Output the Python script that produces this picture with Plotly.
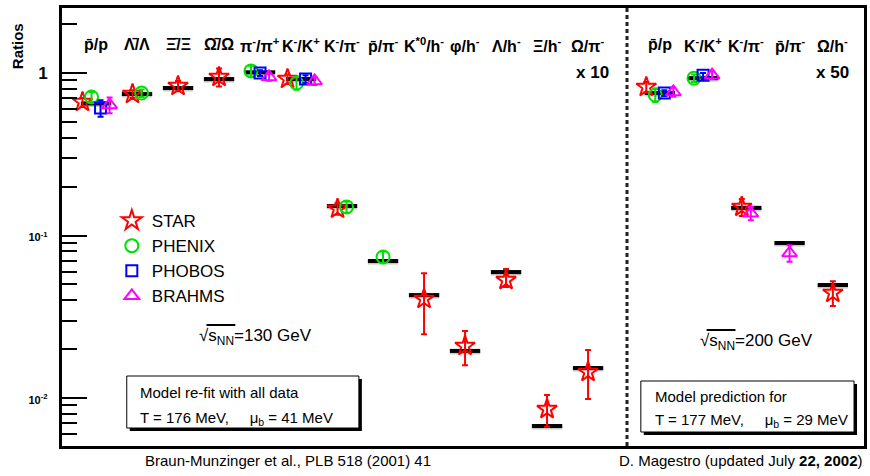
import plotly.graph_objects as go

# ---------------- data ----------------
# sqrt(s_NN) = 130 GeV particle ratios
labels_130 = ["p\u0304/p", "\u039b\u0304/\u039b", "\u039e\u0304/\u039e", "\u03a9\u0304/\u03a9",
              "\u03c0<sup>-</sup>/\u03c0<sup>+</sup>", "K<sup>-</sup>/K<sup>+</sup>",
              "K<sup>-</sup>/\u03c0<sup>-</sup>", "p\u0304/\u03c0<sup>-</sup>",
              "K<sup>*0</sup>/h<sup>-</sup>", "\u03c6/h<sup>-</sup>", "\u039b/h<sup>-</sup>",
              "\u039e/h<sup>-</sup>", "\u03a9/\u03c0<sup>-</sup>"]
model_130 = [0.65, 0.743, 0.809, 0.918, 1.01, 0.918, 0.152, 0.0697, 0.043, 0.0195, 0.0596, 0.00673, 0.0153]
star_130 = [0.663, 0.743, 0.832, 0.945, None, 0.918, 0.146, None, 0.0407, 0.0209, 0.0532, 0.00855, 0.01445]
star_130_up = [0.04, 0.04, 0.06, 0.12, None, 0.06, 0.012, None, 0.018, 0.005, 0.009, 0.0019, 0.0053]
star_130_dn = [0.04, 0.04, 0.06, 0.12, None, 0.06, 0.012, None, 0.016, 0.005, 0.005, 0.0019, 0.0046]
phenix_130 = [0.712, 0.753, None, None, 1.03, 0.868, 0.150, 0.0738, None, None, None, None, None]
phenix_130_err = [0.05, 0.04, None, None, 0.08, 0.08, 0.012, 0.006, None, None, None, None, None]
phobos_130 = [0.609, None, None, None, 1.00, 0.918, None, None, None, None, None, None, None]
phobos_130_err = [0.07, None, None, None, 0.04, 0.05, None, None, None, None, None, None, None]
brahms_130 = [0.636, None, None, None, 0.945, 0.893, None, None, None, None, None, None, None]
brahms_130_err = [0.07, None, None, None, 0.05, 0.05, None, None, None, None, None, None, None]

# sqrt(s_NN) = 200 GeV particle ratios
labels_200 = ["p\u0304/p", "K<sup>-</sup>/K<sup>+</sup>", "K<sup>-</sup>/\u03c0<sup>-</sup>",
              "p\u0304/\u03c0<sup>-</sup>", "\u03a9/h<sup>-</sup>"]
model_200 = [0.753, 0.93, 0.148, 0.090, 0.0496]
star_200 = [0.82, None, 0.150, None, 0.0443]
star_200_up = [0.06, None, 0.018, None, 0.008]
star_200_dn = [0.06, None, 0.018, None, 0.0074]
phenix_200 = [0.732, 0.93, None, None, None]
phenix_200_err = [0.07, 0.05, None, None, None]
phobos_200 = [0.753, 0.97, None, None, None]
phobos_200_err = [0.03, 0.03, None, None, None]
brahms_200 = [0.764, 0.97, 0.137, 0.078, None]
brahms_200_err = [0.05, 0.05, 0.013, 0.009, None]

scale_130 = "x 10"   # factor applied to the last 130 GeV ratio
scale_200 = "x 50"   # factor applied to the last 200 GeV ratio

# ---------------- layout helpers ----------------
W, H = 870, 476
ML, MR, MT, MB = 62, 3, 8, 30
PW, PH = W - ML - MR, H - MT - MB

def px(x):
    return (x - ML) / PW

def py(y):
    return (H - MB - y) / PH

def xpos_130(i):
    return float(i)

def xpos_200(j):
    return 13.75 + 1.055 * j

x130 = [xpos_130(i) for i in range(len(labels_130))]
x200 = [xpos_200(j) for j in range(len(labels_200))]
xs_all = x130 + x200
separator_x = 12.95

FONT = "Liberation Sans Narrow, Liberation Sans, Arial, sans-serif"

experiments = [
    ("STAR", "star-open", "#ff0000", 15,
     star_130 + star_200, star_130_up + star_200_up, star_130_dn + star_200_dn),
    ("PHENIX", "circle-open", "#00e000", 13,
     phenix_130 + phenix_200, phenix_130_err + phenix_200_err, phenix_130_err + phenix_200_err),
    ("PHOBOS", "square-open", "#0000ff", 11,
     phobos_130 + phobos_200, phobos_130_err + phobos_200_err, phobos_130_err + phobos_200_err),
    ("BRAHMS", "triangle-up-open", "#ff00ff", 13,
     brahms_130 + brahms_200, brahms_130_err + brahms_200_err, brahms_130_err + brahms_200_err),
]

# spread the experiments horizontally within each ratio
n_cat = len(xs_all)
present = [[e for e in range(len(experiments)) if experiments[e][4][c] is not None] for c in range(n_cat)]
step = 0.22

fig = go.Figure()

# model (thermal fit) values as short horizontal bars
half = 0.37
bx, by = [], []
for xc, v in zip(xs_all, model_130 + model_200):
    bx += [xc - half, xc + half, None]
    by += [v, v, None]
fig.add_trace(go.Scatter(x=bx, y=[None if b is None else b * 0.972 for b in by], mode="lines",
                         line=dict(color="#c8c8c8", width=3), showlegend=False, hoverinfo="skip"))
fig.add_trace(go.Scatter(x=bx, y=by, mode="lines", line=dict(color="black", width=4),
                         showlegend=False, hoverinfo="skip"))

for e, (name, sym, col, size, vals, up, dn) in enumerate(experiments):
    xx, yy, eu, ed = [], [], [], []
    for c in range(n_cat):
        if vals[c] is None:
            continue
        k = present[c].index(e)
        n = len(present[c])
        xx.append(xs_all[c] + (k - (n - 1) / 2) * step)
        yy.append(vals[c])
        eu.append(up[c] or 0)
        ed.append(dn[c] or 0)
    fig.add_trace(go.Scatter(
        x=xx, y=yy, mode="markers", name=name,
        marker=dict(symbol=sym, size=size, color=col, line=dict(color=col, width=2)),
        error_y=dict(type="data", array=eu, arrayminus=ed, symmetric=False,
                     color=col, thickness=2, width=3),
    ))

def text_font(size):
    return dict(size=size, family=FONT, color="black")

# ratio labels along the top
ann = []
for xc, lab in zip(x130 + x200, labels_130 + labels_200):
    ann.append(dict(x=xc, y=py(45), xref="x", yref="paper", yanchor="middle",
                    text="<b>" + lab + "</b>", showarrow=False, font=text_font(16)))
ann.append(dict(x=x130[-1] + 0.1, y=py(72), xref="x", yref="paper", yanchor="middle",
                text="<b>" + scale_130 + "</b>", showarrow=False, font=text_font(17)))
ann.append(dict(x=x200[-1], y=py(72), xref="x", yref="paper", yanchor="middle",
                text="<b>" + scale_200 + "</b>", showarrow=False, font=text_font(17)))

# y-axis title
ann.append(dict(x=px(17), y=py(46), xref="paper", yref="paper", xanchor="center",
                yanchor="middle", text="<b>Ratios</b>", textangle=-90, showarrow=False,
                font=text_font(15)))

# collision energies
sqrt_s = "\u221as<sub>NN</sub>"
ann.append(dict(x=px(198), y=py(337), xref="paper", yref="paper", xanchor="left",
                yanchor="middle", text=sqrt_s + "=130 GeV", showarrow=False,
                font=text_font(17)))
ann.append(dict(x=px(700), y=py(342), xref="paper", yref="paper", xanchor="left",
                yanchor="middle", text=sqrt_s + "=200 GeV", showarrow=False,
                font=text_font(17)))

# model parameter boxes
sp = "\u00a0" * 5
box_lines = [
    (138, 392, "Model re-fit with all data"),
    (138, 418, "T = 176 MeV," + sp + "\u03bc<sub>b</sub> = 41 MeV"),
    (655, 396, "Model prediction for"),
    (655, 420, "T = 177 MeV," + sp + "\u03bc<sub>b</sub> = 29 MeV"),
]
for bxp, byp, txt in box_lines:
    ann.append(dict(x=px(bxp), y=py(byp), xref="paper", yref="paper", xanchor="left",
                    yanchor="middle", text=txt, showarrow=False, font=text_font(15)))

# references under the frame
ann.append(dict(x=px(143), y=py(460), xref="paper", yref="paper", xanchor="left",
                yanchor="middle", text="Braun-Munzinger et al., PLB 518 (2001) 41",
                showarrow=False, font=text_font(15)))
ann.append(dict(x=px(867), y=py(460), xref="paper", yref="paper", xanchor="right",
                yanchor="middle", text="D. Magestro (updated July <b>22, 2002</b>)",
                showarrow=False, font=text_font(15)))

shapes = []
for (x0, y0, x1, y1) in [(127, 376, 360, 428), (643, 381, 857, 432)]:
    shapes.append(dict(type="rect", xref="paper", yref="paper",
                       x0=px(x0 + 3), x1=px(x1 + 3), y0=py(y0 + 3), y1=py(y1 + 3),
                       fillcolor="black", line=dict(width=0)))
    shapes.append(dict(type="rect", xref="paper", yref="paper",
                       x0=px(x0), x1=px(x1), y0=py(y0), y1=py(y1),
                       fillcolor="white", line=dict(color="black", width=1)))
# radical overbars over s_NN
for (x0, x1, yy) in [(207, 236, 325), (709, 738, 330)]:
    shapes.append(dict(type="line", xref="paper", yref="paper", x0=px(x0), x1=px(x1),
                       y0=py(yy), y1=py(yy), layer="above",
                       line=dict(color="black", width=2)))
shapes.append(dict(type="line", xref="x", yref="paper", x0=separator_x, x1=separator_x,
                   y0=0, y1=1, line=dict(color="#222222", width=3, dash="4px,3px")))

# log-axis ticks
major = [0.01, 0.1, 1]
major_txt = ["<b><span style='font-size:11px'>10<sup>-2</sup></span></b>",
             "<b><span style='font-size:11px'>10<sup>-1</sup></span></b>",
             "<b>1</b>"]
minor = [m * d for d in (0.001, 0.01, 0.1, 1) for m in range(2, 10)]

fig.update_layout(
    width=W, height=H,
    margin=dict(l=ML, r=MR, t=MT, b=MB),
    paper_bgcolor="white", plot_bgcolor="white",
    showlegend=True,
    legend=dict(x=px(112), y=py(203), xanchor="left", yanchor="top",
                bgcolor="rgba(0,0,0,0)", font=text_font(17),
                itemsizing="trace", tracegroupgap=0),
    annotations=ann, shapes=shapes,
    xaxis=dict(range=[-0.83, 18.73], showticklabels=False, ticks="", showgrid=False,
               zeroline=False, showline=True, linecolor="black", linewidth=3, mirror=True),
    yaxis=dict(type="log", range=[-2.295, 0.4], tickmode="array", tickvals=major,
               ticktext=major_txt, ticks="inside", ticklen=25, tickwidth=2, tickcolor="black",
               tickfont=text_font(17), ticklabelstandoff=8,
               showgrid=False, zeroline=False, showline=True, linecolor="black",
               linewidth=3, mirror=True,
               minor=dict(tickmode="array", tickvals=minor, ticks="inside", ticklen=15,
                          tickwidth=2, tickcolor="black", showgrid=False)),
)

fig.write_html("out.html")
